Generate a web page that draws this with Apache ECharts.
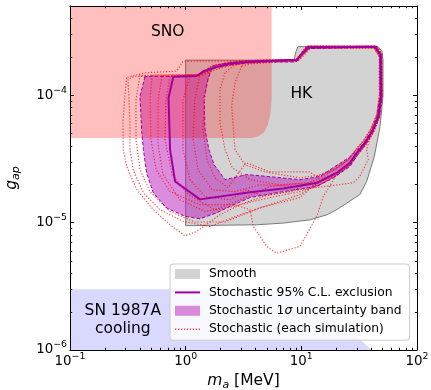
<!DOCTYPE html>
<html><head><meta charset="utf-8">
<script src="https://cdn.jsdelivr.net/npm/echarts@6.0.0/dist/echarts.min.js"></script>
<style>html,body{margin:0;padding:0;background:#fff}#c{width:431px;height:390px}</style>
</head><body><div id="c"></div>
<script>
// axis ranges and ticks
const xRange = [0.1, 100];
const yRange = [1e-6, 5e-4];
const xMinorTicks = [0.2,0.3,0.4,0.5,0.6,0.7,0.8,0.9,2,3,4,5,6,7,8,9,20,30,40,50,60,70,80,90];
const yMinorTicks = [2e-6,3e-6,4e-6,5e-6,6e-6,7e-6,8e-6,9e-6,2e-5,3e-5,4e-5,5e-5,6e-5,7e-5,8e-5,9e-5,2e-4,3e-4,4e-4];

// constraint regions (m_a [MeV], g_ap)
const snoRegion = [[0.1,4.6e-5],[3.67,4.6e-5],[4.22,4.73e-5],[4.75,5.08e-5],[5.15,5.88e-5],[5.41,7.16e-5],[5.54,9.22e-5],[5.54,5e-4],[0.1,5e-4]];
const sn1987Region = [[0.1,1e-6],[0.1,3e-6],[10.1,3e-6],[40.8,1e-6]];
const hkSmooth = [[1.0,9.45e-6],[1.0,1.88e-4],[8.65,1.88e-4],[9.0,2.2e-4],[9.35,2.4e-4],[46,2.4e-4],[49.8,2.2e-4],[50.8,1.9e-4],[50.8,9.75e-5],[47.9,5.66e-5],[42.8,3.31e-5],[36.7,2.1e-5],[32.1,1.66e-5],[24.7,1.42e-5],[20.2,1.26e-5],[16.6,1.15e-5],[11.9,1.05e-5],[6.94,9.9e-6],[4.11,9.6e-6]];

// stochastic 95% C.L. exclusion (closed)
const cl95 = [[0.782,1.39e-4],[1.245,1.41e-4],[1.42,1.54e-4],[1.85,1.66e-4],[2.42,1.77e-4],[3.37,1.82e-4],[5.0,1.85e-4],[9.12,1.89e-4],[11.5,2.36e-4],[43.4,2.39e-4],[48.3,2.05e-4],[48.9,9.75e-5],[46.3,6.82e-5],[40.8,5.18e-5],[35.5,4.23e-5],[30.3,3.54e-5],[26.3,2.94e-5],[20.2,2.45e-5],[13.6,2.05e-5],[6.98,1.85e-5],[3.6,1.73e-5],[1.33,1.52e-5],[0.81,2.1e-5],[0.733,3.73e-5],[0.711,9.53e-5],[0.782,1.39e-4]];

// 1 sigma band: outer and inner boundaries
const bandOuter = [[0.445,1.40e-4],[0.403,9.75e-5],[0.417,5.20e-5],[0.431,3.73e-5],[0.460,2.45e-5],[0.525,1.71e-5],[0.685,1.30e-5],[0.986,1.12e-5],[1.33,1.07e-5],[1.85,1.19e-5],[2.42,1.34e-5],[3.60,1.57e-5],[6.98,1.75e-5],[13.6,1.92e-5],[18.9,2.24e-5],[26.4,2.76e-5],[30.3,3.35e-5],[36.2,4.16e-5],[41.7,5.18e-5],[47.4,6.79e-5],[49.8,9.75e-5],[49.3,2.05e-4],[44.2,2.41e-4],[11.2,2.41e-4],[8.99,1.87e-4],[5.01,1.87e-4],[3.37,1.85e-4],[2.42,1.80e-4],[1.79,1.71e-4],[1.33,1.48e-4],[1.253,1.41e-4]];
const bandInner = [[1.69,1.62e-4],[1.56,1.33e-4],[1.44,9.57e-5],[1.47,5.37e-5],[1.59,3.73e-5],[1.76,2.84e-5],[2.19,2.17e-5],[3.37,2.38e-5],[5.36,2.29e-5],[9.73,2.17e-5],[14.5,2.30e-5],[18.9,2.70e-5],[25.8,3.23e-5],[29.7,3.61e-5],[34.8,4.23e-5],[40.0,5.18e-5],[45.1,6.79e-5],[47.9,9.75e-5],[47.9,2.05e-4],[43.4,2.37e-4],[11.4,2.32e-4],[9.0,1.82e-4],[5.01,1.82e-4],[3.37,1.79e-4],[2.42,1.73e-4],[1.98,1.66e-4]];

// individual stochastic simulations (closed contours)
const simA = [[0.309,1.37e-4],[0.298,9.8e-5],[0.287,6.1e-5],[0.289,3.73e-5],[0.309,2.76e-5],[0.378,1.81e-5],[0.525,1.26e-5],[0.733,9.6e-6],[0.986,7.87e-6],[1.245,8.5e-6],[1.98,1.15e-5],[2.95,1.38e-5],[5.36,1.57e-5],[9.73,1.75e-5],[14,1.95e-5],[20,2.35e-5],[26.5,2.85e-5],[31,3.45e-5],[36.5,4.15e-5],[42,5.1e-5],[47.5,6.8e-5],[50,1e-4],[49.5,2.1e-4],[44.5,2.42e-4],[11.2,2.42e-4],[9,1.9e-4],[5,1.88e-4],[3.3,1.86e-4],[2.0,1.85e-4],[0.95,1.84e-4],[0.835,1.54e-4],[0.46,1.5e-4],[0.34,1.41e-4],[0.309,1.37e-4]];
const simB = [[0.317,1.33e-4],[0.324,9.2e-5],[0.33,5.88e-5],[0.33,3.73e-5],[0.352,2.6e-5],[0.431,1.71e-5],[0.6,1.26e-5],[0.955,1.02e-5],[1.62,9.31e-6],[2.95,1.15e-5],[5.36,1.38e-5],[9.73,1.66e-5],[13.6,2.0e-5],[20,2.4e-5],[26,2.9e-5],[30.5,3.5e-5],[36,4.2e-5],[41.5,5.15e-5],[47,6.8e-5],[49.5,1e-4],[49,2.07e-4],[44,2.41e-4],[11.4,2.41e-4],[9.05,1.89e-4],[5,1.86e-4],[3.3,1.83e-4],[2.4,1.78e-4],[1.8,1.67e-4],[1.3,1.43e-4],[0.36,1.4e-4],[0.317,1.33e-4]];
const simC = [[0.403,1.43e-4],[0.372,9.2e-5],[0.372,4.5e-5],[0.403,2.6e-5],[0.492,1.75e-5],[0.733,1.22e-5],[1.2,1.01e-5],[2.19,1.01e-5],[4.39,1.31e-5],[9.73,1.57e-5],[13.6,2.05e-5],[20.2,2.45e-5],[26.3,2.94e-5],[30.3,3.54e-5],[35.5,4.23e-5],[40.8,5.18e-5],[46.3,6.82e-5],[48.9,9.75e-5],[48.3,2.05e-4],[43.4,2.39e-4],[11.5,2.39e-4],[9.1,1.89e-4],[5,1.85e-4],[3.37,1.82e-4],[2.42,1.77e-4],[1.85,1.66e-4],[1.35,1.45e-4],[0.45,1.43e-4],[0.403,1.43e-4]];
const simD = [[0.512,1.43e-4],[0.492,9.2e-5],[0.501,4.5e-5],[0.555,2.6e-5],[0.733,1.75e-5],[1.33,1.38e-5],[2.67,1.38e-5],[3.6,1.26e-5],[3.85,9.3e-6],[5.01,6.5e-6],[6.12,5.75e-6],[9.73,6.5e-6],[13.6,1.12e-5],[15.5,1.6e-5],[20,2.35e-5],[26.5,2.85e-5],[31,3.45e-5],[36.5,4.15e-5],[42,5.1e-5],[47.5,6.8e-5],[50,1e-4],[49.5,2.1e-4],[44.5,2.42e-4],[11.2,2.42e-4],[9,1.9e-4],[5,1.88e-4],[3.3,1.86e-4],[2.3,1.8e-4],[1.7,1.7e-4],[1.3,1.45e-4],[0.512,1.43e-4]];
const simE = [[0.624,1.4e-4],[0.577,9.2e-5],[0.577,4.1e-5],[0.637,2.38e-5],[0.893,1.51e-5],[1.47,1.22e-5],[2.67,1.34e-5],[4.85,1.62e-5],[9.73,1.81e-5],[28.1,2.05e-5],[32.1,2.3e-5],[37.9,3.12e-5],[36.7,3.73e-5],[40.8,5.18e-5],[46.3,6.82e-5],[48.9,9.75e-5],[48.3,2.05e-4],[43.4,2.39e-4],[11.5,2.39e-4],[9.1,1.89e-4],[5,1.85e-4],[3.37,1.82e-4],[2.42,1.77e-4],[1.85,1.66e-4],[1.4,1.48e-4],[1.2,1.41e-4],[0.624,1.4e-4]];
const simF = [[1.09,1.41e-4],[0.948,9.2e-5],[0.948,3.73e-5],[1.09,2.17e-5],[1.47,1.6e-5],[2.42,1.51e-5],[3.37,1.81e-5],[4.57,1.62e-5],[7.98,1.75e-5],[13,2.15e-5],[19.5,2.6e-5],[25.5,3.1e-5],[29.5,3.7e-5],[34.5,4.35e-5],[39.5,5.3e-5],[45,7e-5],[47.5,1e-4],[47.5,2e-4],[42.5,2.35e-4],[11.8,2.35e-4],[9.3,1.86e-4],[5.1,1.82e-4],[3.4,1.78e-4],[2.5,1.72e-4],[1.9,1.6e-4],[1.35,1.43e-4],[1.09,1.41e-4]];
const simG = [[1.62,1.59e-4],[1.47,1.01e-4],[1.41,5.37e-5],[1.53,3.12e-5],[1.79,2.24e-5],[2.32,1.88e-5],[3.33,2.95e-5],[5.36,2.5e-5],[11.8,2.5e-5],[13.6,2.3e-5],[19.5,2.6e-5],[25.5,3.1e-5],[29.5,3.7e-5],[34.5,4.35e-5],[39.5,5.3e-5],[45,7e-5],[47.5,1e-4],[47.5,2e-4],[42.5,2.35e-4],[11.8,2.35e-4],[9.3,1.86e-4],[5.1,1.82e-4],[3.4,1.78e-4],[2.5,1.72e-4],[1.9,1.65e-4],[1.62,1.59e-4]];
const simH = [[3.05,1.69e-4],[2.67,1.25e-4],[2.5,8.19e-5],[2.67,3.73e-5],[3.26,2.84e-5],[4.85,2.5e-5],[9.73,2.24e-5],[14,2.35e-5],[19.5,2.65e-5],[25.5,3.15e-5],[29.5,3.75e-5],[34.5,4.4e-5],[39.5,5.35e-5],[45,7.1e-5],[47.2,1e-4],[47.2,2e-4],[42.5,2.33e-4],[12,2.33e-4],[9.4,1.84e-4],[5.2,1.8e-4],[3.5,1.75e-4],[3.05,1.69e-4]];
const simI = [[2.19,1.5e-4],[1.98,1.11e-4],[1.98,6.05e-5],[2.19,3.73e-5],[2.52,2.7e-5],[3.6,2.17e-5],[6.55,1.98e-5],[11.8,2.06e-5],[20.2,2.45e-5],[26.3,2.94e-5],[30.3,3.54e-5],[35.5,4.23e-5],[40.8,5.18e-5],[46.3,6.82e-5],[48.9,9.75e-5],[48.3,2.05e-4],[43.4,2.39e-4],[11.5,2.39e-4],[9.1,1.89e-4],[5,1.85e-4],[3.37,1.82e-4],[2.6,1.7e-4],[2.19,1.5e-4]];
const simJ = [[0.733,1.4e-4],[0.676,9.2e-5],[0.662,4.5e-5],[0.762,2.38e-5],[1.05,1.66e-5],[1.79,1.26e-5],[2.95,1.51e-5],[5.36,1.92e-5],[9.73,2.02e-5],[14,1.95e-5],[20,2.35e-5],[26.5,2.85e-5],[31,3.45e-5],[36.5,4.15e-5],[42,5.1e-5],[47.5,6.8e-5],[50,1e-4],[49.5,2.1e-4],[44.5,2.42e-4],[11.2,2.42e-4],[9,1.9e-4],[5,1.88e-4],[3.3,1.86e-4],[2.3,1.8e-4],[1.7,1.7e-4],[1.3,1.43e-4],[0.733,1.4e-4]];
const simK = [[1.33,1.48e-4],[1.2,9.2e-5],[1.16,4.5e-5],[1.28,2.6e-5],[1.69,1.81e-5],[2.67,1.75e-5],[4.39,1.98e-5],[9.73,1.92e-5],[13.6,2.05e-5],[20.2,2.45e-5],[26.3,2.94e-5],[30.3,3.54e-5],[35.5,4.23e-5],[40.8,5.18e-5],[46.3,6.82e-5],[48.9,9.75e-5],[48.3,2.05e-4],[43.4,2.39e-4],[11.5,2.39e-4],[9.1,1.89e-4],[5,1.85e-4],[3.37,1.82e-4],[2.42,1.77e-4],[1.85,1.66e-4],[1.33,1.48e-4]];
const simulations = [simA, simB, simC, simD, simE, simF, simG, simH, simI, simJ, simK];

// text annotations
const annotations = [
  {text: 'SNO', pos: [0.70, 3.1e-4]},
  {text: 'HK', pos: [10, 1.02e-4]},
  {text: 'SN 1987A\ncooling', pos: [0.286, 1.72e-6]}
];

const NAME_SMOOTH = 'Smooth';
const NAME_CL = 'Stochastic 95% C.L. exclusion';
const NAME_BAND = 'Stochastic 1\u03c3 uncertainty band';
const NAME_SIM = 'Stochastic (each simulation)';

const FONT = 'DejaVu Sans';
const C_PURPLE = '#a000a0';
const C_BAND = 'rgba(185,25,185,0.5)';
const C_SIM = 'rgba(255,0,0,0.72)';

function polygonSeries(name, pts, style, z) {
  return {
    type: 'custom', name: name, z: z, silent: true, clip: true,
    xAxisIndex: 0, yAxisIndex: 0,
    data: [pts[0]],
    renderItem: function (params, api) {
      return {type: 'polygon', shape: {points: pts.map(function (p) { return api.coord(p); })}, style: style};
    }
  };
}

// ring polygon for the band (outer, then inner reversed)
const bandRing = bandOuter.concat([bandOuter[0]]).concat([bandInner[0]]).concat(bandInner.slice(1).reverse()).concat([bandInner[0]]);

function fmtLog(v) {
  const l = Math.log10(v);
  const e = Math.round(l);
  if (Math.abs(l - e) > 1e-6) return '';
  return '{b|10}{s|' + (e < 0 ? '\u2212' + (-e) : String(e)) + '}';
}
const tickRich = {
  b: {fontSize: 13.4, fontFamily: FONT, color: '#000', lineHeight: 19},
  s: {fontSize: 9.4, fontFamily: FONT, color: '#000', lineHeight: 10, verticalAlign: 'top'}
};

function axisBase(extra) {
  return Object.assign({
    type: 'log', logBase: 10, z: 10,
    axisLine: {show: true, onZero: false, lineStyle: {color: '#000', width: 1}},
    axisTick: {show: true, inside: true, length: 4, lineStyle: {color: '#000', width: 1}},
    splitLine: {show: false}, minorTick: {show: false}, minorSplitLine: {show: false}
  }, extra);
}

// legend icons (line samples)
const solidIcon = 'path://M0,0L0,0M0,4L25,4L25,6L0,6ZM25,10L25,10';
let dotted = 'path://M0,0L0,0';
for (let k = 0; k < 9; k++) { dotted += 'M' + (k * 3) + ',4.4h1.3v1.3h-1.3z'; }
dotted += 'M25,10L25,10';

const series = [];
series.push(polygonSeries(NAME_SMOOTH, hkSmooth, {fill: '#d3d3d3', stroke: '#7a7a7a', lineWidth: 1}, 1));
series.push(polygonSeries(NAME_BAND, bandRing, {fill: C_BAND}, 2));
series.push(polygonSeries('SNO', snoRegion, {fill: 'rgba(255,0,0,0.25)'}, 3));
series.push(polygonSeries('SN1987A', sn1987Region, {fill: 'rgba(0,0,255,0.15)'}, 3));
simulations.forEach(function (s) {
  series.push({type: 'line', name: NAME_SIM, data: s, z: 4, symbol: 'none', showSymbol: false, silent: true,
    itemStyle: {color: C_SIM},
    lineStyle: {color: C_SIM, width: 1.2, type: [1.2, 1.8]}});
});
series.push({type: 'line', name: 'bandOuterEdge', data: bandOuter.concat([bandOuter[0]]), z: 5, symbol: 'none', silent: true,
  lineStyle: {color: C_PURPLE, width: 1, type: [3.5, 2]}});
series.push({type: 'line', name: 'bandInnerEdge', data: bandInner.concat([bandInner[0]]), z: 5, symbol: 'none', silent: true,
  lineStyle: {color: C_PURPLE, width: 1, type: [3.5, 2]}});
series.push({type: 'line', name: NAME_CL, data: cl95, z: 6, symbol: 'none', showSymbol: false, silent: true,
  itemStyle: {color: C_PURPLE},
  lineStyle: {color: C_PURPLE, width: 2}});
series.push({
  type: 'custom', name: 'labels', z: 7, silent: true, xAxisIndex: 0, yAxisIndex: 0,
  data: annotations.map(function (a) { return a.pos; }),
  renderItem: function (params, api) {
    const a = annotations[params.dataIndex];
    const p = api.coord(a.pos);
    return {type: 'text', x: p[0], y: p[1], style: {text: a.text, fill: '#000', fontSize: 15.5, fontFamily: FONT,
      align: 'center', verticalAlign: 'middle', lineHeight: 17.5}};
  }
});
series.push({
  type: 'custom', name: 'minorTicks', z: 8, silent: true, xAxisIndex: 0, yAxisIndex: 0,
  data: [[1, 1e-5]],
  renderItem: function (params, api) {
    const cs = params.coordSys;
    const top = cs.y, bot = cs.y + cs.height, left = cs.x, right = cs.x + cs.width;
    const ch = [];
    function ln(x1, y1, x2, y2) { return {type: 'line', shape: {x1: x1, y1: y1, x2: x2, y2: y2}, style: {stroke: '#000', lineWidth: 1}}; }
    xMinorTicks.forEach(function (v) {
      const x = Math.round(api.coord([v, 1e-5])[0]) + 0.5;
      ch.push(ln(x, bot, x, bot - 2.2), ln(x, top, x, top + 2.2));
    });
    yMinorTicks.forEach(function (v) {
      const y = Math.round(api.coord([1, v])[1]) + 0.5;
      ch.push(ln(left, y, left + 2.2, y), ln(right, y, right - 2.2, y));
    });
    return {type: 'group', children: ch};
  }
});

const option = {
  animation: false,
  backgroundColor: '#fff',
  grid: {left: 70, top: 6, right: 14, bottom: 40, outerBoundsMode: 'none', containLabel: false},
  xAxis: [
    axisBase({min: xRange[0], max: xRange[1], position: 'bottom',
      axisLabel: {show: true, margin: 2, formatter: fmtLog, rich: tickRich, hideOverlap: false},
      name: '{i|m}{sub|a}{n| [MeV]}', nameLocation: 'middle', nameGap: 20,
      nameTextStyle: {rich: {
        i: {fontSize: 15.5, fontFamily: FONT, fontStyle: 'italic', color: '#000', lineHeight: 20},
        sub: {fontSize: 11, fontFamily: FONT, fontStyle: 'italic', color: '#000', lineHeight: 12, verticalAlign: 'bottom'},
        n: {fontSize: 15.5, fontFamily: FONT, color: '#000', lineHeight: 20}
      }}}),
    axisBase({min: xRange[0], max: xRange[1], position: 'top', axisLabel: {show: false}})
  ],
  yAxis: [
    axisBase({min: yRange[0], max: yRange[1], position: 'left',
      axisLabel: {show: true, margin: 3, formatter: fmtLog, rich: tickRich, hideOverlap: false},
      name: '{i|g}{sub|ap}', nameLocation: 'middle', nameGap: 48,
      nameTextStyle: {rich: {
        i: {fontSize: 15.5, fontFamily: FONT, fontStyle: 'italic', color: '#000', lineHeight: 20},
        sub: {fontSize: 11, fontFamily: FONT, fontStyle: 'italic', color: '#000', lineHeight: 12, verticalAlign: 'bottom'}
      }}}),
    axisBase({min: yRange[0], max: yRange[1], position: 'right', axisLabel: {show: false}})
  ],
  legend: {
    z: 20, left: 170, top: 264, orient: 'vertical', align: 'left',
    padding: [3, 8, 4, 5], itemWidth: 25, itemHeight: 10, itemGap: 4.4,
    backgroundColor: 'rgba(255,255,255,0.8)', borderColor: '#cccccc', borderWidth: 1, borderRadius: 3,
    selectedMode: false,
    formatter: function (n) { return n.replace('\u03c3', '{it|\u03c3}'); },
    textStyle: {fontSize: 12.3, fontFamily: FONT, color: '#000', lineHeight: 14, padding: [0, 0, 0, 4],
      rich: {it: {fontSize: 12.3, fontFamily: FONT, fontStyle: 'italic', color: '#000', lineHeight: 14}}},
    data: [
      {name: NAME_SMOOTH, icon: 'rect', itemStyle: {color: '#d3d3d3', borderWidth: 0}},
      {name: NAME_CL, icon: solidIcon, itemStyle: {color: C_PURPLE, borderWidth: 0}},
      {name: NAME_BAND, icon: 'rect', itemStyle: {color: C_BAND, borderWidth: 0}},
      {name: NAME_SIM, icon: dotted, itemStyle: {color: C_SIM, borderWidth: 0}}
    ]
  },
  series: series
};

const chart = echarts.init(document.getElementById('c'), null, {renderer: 'canvas'});
chart.setOption(option);
</script>
</body></html>
